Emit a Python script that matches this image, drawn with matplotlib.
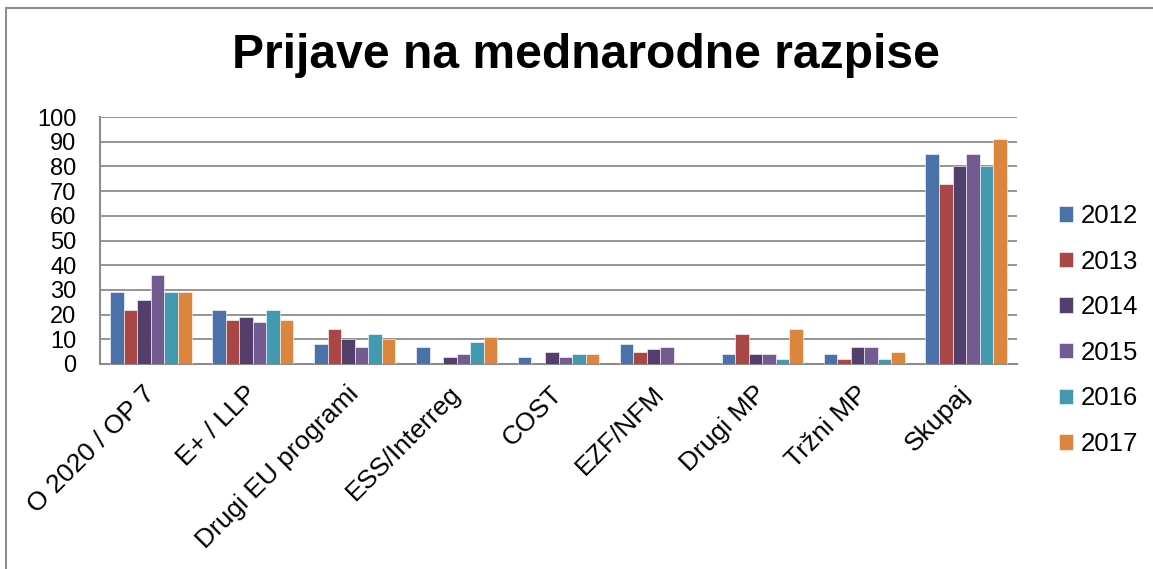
import matplotlib
matplotlib.use("Agg")
import matplotlib.pyplot as plt
import numpy as np
from matplotlib.patches import Rectangle

plt.rcParams['font.family'] = ['Liberation Sans', 'DejaVu Sans']

categories = ["O 2020 / OP 7", "E+ / LLP", "Drugi EU programi", "ESS/Interreg",
              "COST", "EZF/NFM", "Drugi MP", "Tržni MP", "Skupaj"]
years = ["2012", "2013", "2014", "2015", "2016", "2017"]
v2012 = [29, 22, 8, 7, 3, 8, 4, 4, 85]
v2013 = [22, 18, 14, 0, 0, 5, 12, 2, 73]
v2014 = [26, 19, 10, 3, 5, 6, 4, 7, 80]
v2015 = [36, 17, 7, 4, 3, 7, 4, 7, 85]
v2016 = [29, 22, 12, 9, 4, 0, 2, 2, 80]
v2017 = [29, 18, 10, 11, 4, 0, 14, 5, 91]
series = [v2012, v2013, v2014, v2015, v2016, v2017]
colors = ['#4A72A8', '#A84745', '#533F6B', '#735A91', '#4399B0', '#DC853E']
yticks = list(range(0, 101, 10))

W, H = 1153, 569
fig = plt.figure(figsize=(W / 100, H / 100), dpi=100)

# figure border (only left and top visible as in reference)
fig.patches.append(Rectangle((6 / W, -0.1), 1.2, 1 - 8 / H + 0.1, transform=fig.transFigure,
                             fill=False, edgecolor='#8c8c8c', linewidth=1.5))

ax = fig.add_axes([100 / W, 1 - 364 / H, (1017 - 100) / W, (364 - 117) / H])

x = np.arange(len(categories))
bw = 0.133
for i, (vals, c, yr) in enumerate(zip(series, colors, years)):
    ax.bar(x + (i - 2.5) * bw, vals, width=bw, color=c, edgecolor='#ffffff',
           linewidth=0.4, label=yr, zorder=3)

ax.set_xlim(-0.5, len(categories) - 0.5)
ax.set_ylim(0, 100)
ax.set_yticks(yticks)
ax.set_yticklabels([str(t) for t in yticks], fontsize=17)
ax.yaxis.grid(True, color='#8c8c8c', linewidth=1.3, zorder=0)
ax.set_axisbelow(True)
ax.tick_params(axis='y', length=0, pad=17)
ax.tick_params(axis='x', length=0, pad=19)
ax.set_xticks(x)
ax.set_xticklabels(categories, fontsize=19, rotation=45, ha='right', va='center',
                   rotation_mode='anchor')
for s in ['top', 'right']:
    ax.spines[s].set_visible(False)
for s in ['left', 'bottom']:
    ax.spines[s].set_color('#8c8c8c')
    ax.spines[s].set_linewidth(1.5)

fig.text(586 / W, 1 - 56 / H, "Prijave na mednarodne razpise", ha='center', va='center',
         fontsize=34.6, fontweight='bold')

handles, labels = ax.get_legend_handles_labels()
fig.legend(handles, labels, loc='center left', bbox_to_anchor=(1046 / W, 1 - 330 / H),
           frameon=False, fontsize=18.5, handlelength=0.55, handleheight=0.55,
           handletextpad=0.3, labelspacing=0.84, borderpad=0)

fig.savefig("out.png", dpi=100)
